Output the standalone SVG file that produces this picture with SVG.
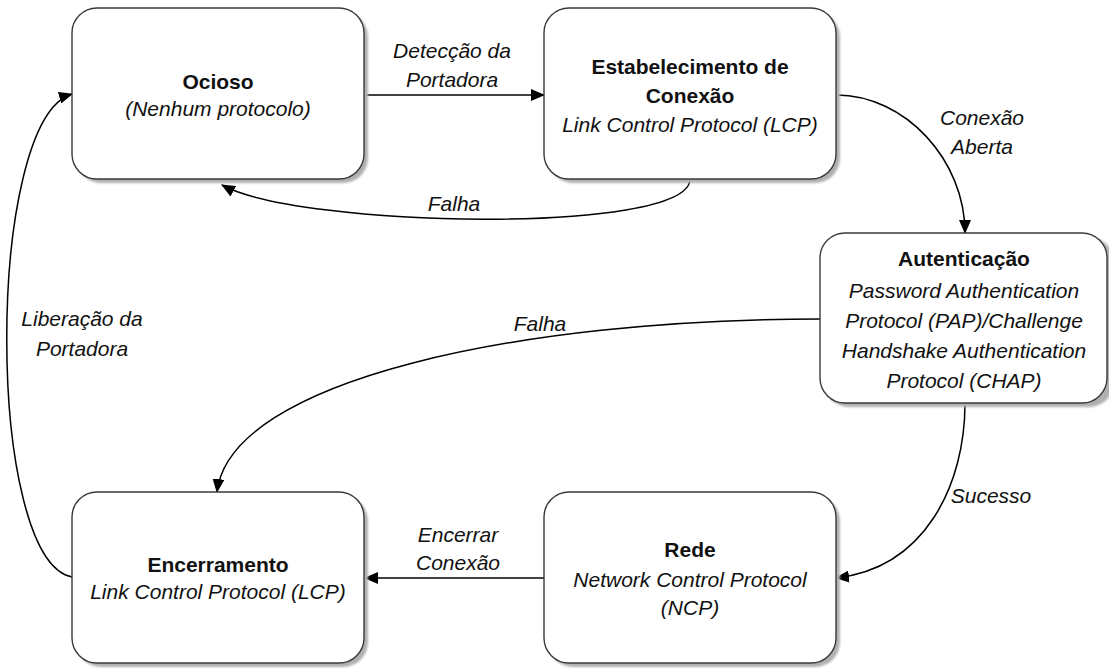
<svg xmlns="http://www.w3.org/2000/svg" width="1109" height="668" viewBox="0 0 1109 668">
  <defs>
    <marker id="arr" markerUnits="userSpaceOnUse" markerWidth="14" markerHeight="12" viewBox="0 0 14 12" refX="13" refY="6" orient="auto">
      <path d="M0,0 L14,6 L0,12 z" fill="#000"/>
    </marker>
    <filter id="sh" x="-5%" y="-5%" width="115%" height="115%">
      <feGaussianBlur stdDeviation="1"/>
    </filter>
  </defs>
  <style>
    .box { fill: #fff; stroke: #3a3a3a; stroke-width: 1.4; }
    .shadow { fill: #b0b0b0; filter: url(#sh); }
    .t { font-family: "Liberation Sans", Arial, sans-serif; font-size: 21px; fill: #111; text-anchor: middle; }
    .b { font-weight: bold; }
    .i { font-style: italic; }
    .c { fill: none; stroke: #000; stroke-width: 1.5; marker-end: url(#arr); }
  </style>
  <rect width="1109" height="668" fill="#fff"/>

  <g id="connectors">
    <path class="c" d="M365,95 L544,95"/>
    <path class="c" d="M836,95 C905,95 965,160 965,233"/>
    <path class="c" d="M690,180 C685,235 300,228 222,185"/>
    <path class="c" d="M820,319 C520,319 230,380 217,492"/>
    <path class="c" d="M965,403 C965,485 925,568 836,578"/>
    <path class="c" d="M544,578 L365,578"/>
    <path class="c" d="M72,577 C-15,560 -15,120 72,94"/>
  </g>

  <g id="edge-labels">
    <text class="t i" x="452" y="58">Detecção da</text>
    <text class="t i" x="452" y="87">Portadora</text>
    <text class="t i" x="982" y="125">Conexão</text>
    <text class="t i" x="982" y="154">Aberta</text>
    <text class="t i" x="454" y="211">Falha</text>
    <text class="t i" x="540" y="331">Falha</text>
    <text class="t i" x="82" y="326">Liberação da</text>
    <text class="t i" x="82" y="356">Portadora</text>
    <text class="t i" x="991" y="503">Sucesso</text>
    <text class="t i" x="458" y="542">Encerrar</text>
    <text class="t i" x="458" y="570">Conexão</text>
  </g>

  <g id="ocioso">
    <rect class="shadow" x="76" y="12" width="292" height="171" rx="25"/>
    <rect class="box" x="72" y="8" width="292" height="171" rx="25"/>
    <text class="t b" x="218" y="89">Ocioso</text>
    <text class="t i" x="218" y="116">(Nenhum protocolo)</text>
  </g>

  <g id="estabelecimento">
    <rect class="shadow" x="548" y="12" width="292" height="171" rx="25"/>
    <rect class="box" x="544" y="8" width="292" height="171" rx="25"/>
    <text class="t b" x="690" y="74">Estabelecimento de</text>
    <text class="t b" x="690" y="103">Conexão</text>
    <text class="t i" x="690" y="132">Link Control Protocol (LCP)</text>
  </g>

  <g id="autenticacao">
    <rect class="shadow" x="824" y="237" width="290" height="170" rx="25"/>
    <rect class="box" x="820" y="233" width="287" height="170" rx="25"/>
    <text class="t b" x="964" y="266">Autenticação</text>
    <text class="t i" x="964" y="298">Password Authentication</text>
    <text class="t i" x="964" y="328">Protocol (PAP)/Challenge</text>
    <text class="t i" x="964" y="358">Handshake Authentication</text>
    <text class="t i" x="964" y="388">Protocol (CHAP)</text>
  </g>

  <g id="encerramento">
    <rect class="shadow" x="76" y="496" width="292" height="171" rx="25"/>
    <rect class="box" x="72" y="492" width="292" height="171" rx="25"/>
    <text class="t b" x="218" y="572">Encerramento</text>
    <text class="t i" x="218" y="599">Link Control Protocol (LCP)</text>
  </g>

  <g id="rede">
    <rect class="shadow" x="548" y="496" width="292" height="171" rx="25"/>
    <rect class="box" x="544" y="492" width="292" height="171" rx="25"/>
    <text class="t b" x="690" y="557">Rede</text>
    <text class="t i" x="690" y="587">Network Control Protocol</text>
    <text class="t i" x="690" y="615">(NCP)</text>
  </g>
</svg>
